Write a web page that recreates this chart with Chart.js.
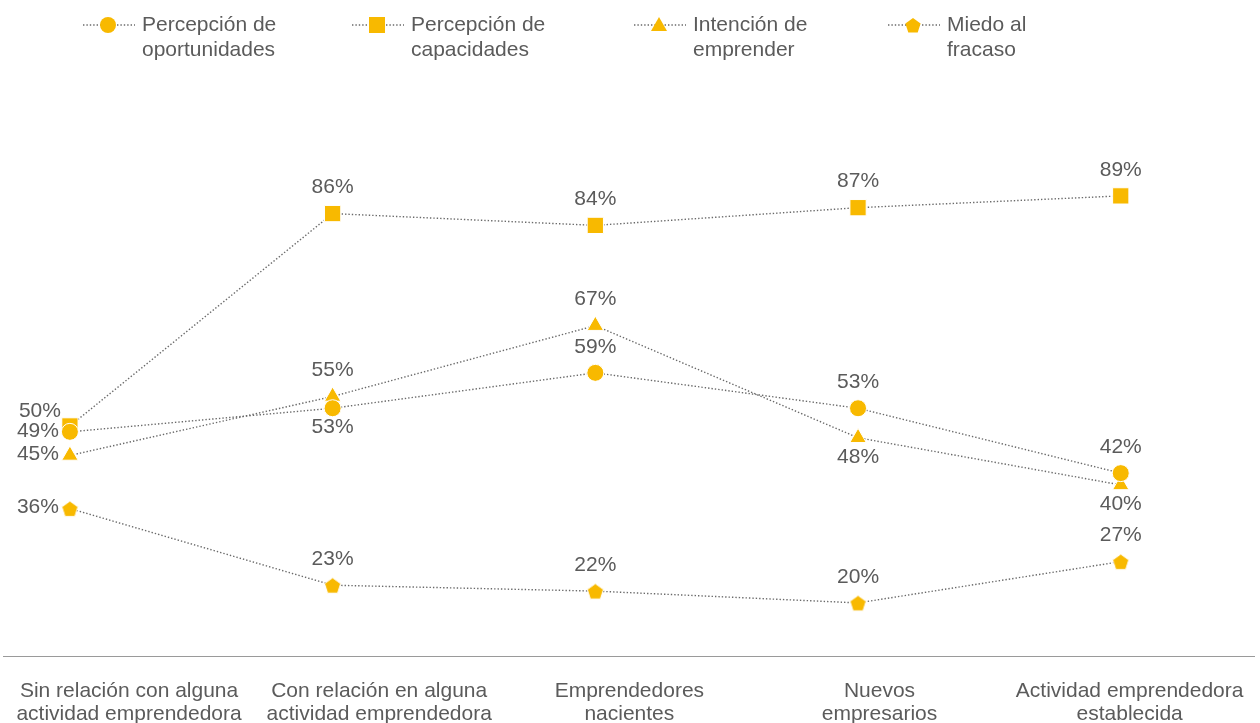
<!DOCTYPE html>
<html>
<head>
<meta charset="utf-8">
<script src="https://cdn.jsdelivr.net/npm/chart.js@4/dist/chart.umd.min.js"></script>
<style>
  html, body { margin: 0; padding: 0; background: #fff; }
  #wrap { width: 1260px; height: 723px; }
</style>
</head>
<body>
<div id="wrap"><canvas id="chart" width="1260" height="723"></canvas></div>
<script>
const categories = [
    ['Sin relación con alguna', 'actividad emprendedora'],
    ['Con relación en alguna', 'actividad emprendedora'],
    ['Emprendedores', 'nacientes'],
    ['Nuevos', 'empresarios'],
    ['Actividad emprendedora', 'establecida']
];
const seriesNames = [
    ['Percepción de', 'oportunidades'],
    ['Percepción de', 'capacidades'],
    ['Intención de', 'emprender'],
    ['Miedo al', 'fracaso']
];
const oportunidades = [49, 53, 59, 53, 42];
const capacidades = [50, 86, 84, 87, 89];
const intencion = [45, 55, 67, 48, 40];
const miedo = [36, 23, 22, 20, 27];

// where each value label sits relative to its marker
const placeOportunidades = ['left', 'below', 'above', 'above', 'above'];
const placeCapacidades = ['leftUp', 'above', 'above', 'above', 'above'];
const placeIntencion = ['left', 'above', 'above', 'below', 'below'];
const placeMiedo = ['left', 'above', 'above', 'above', 'above'];

const yellow = '#F8B900';
const textGray = '#5b5b5b';
const fontFamily = '"Liberation Sans", Arial, Helvetica, sans-serif';

function makePentagon(r) {
    const c = document.createElement('canvas');
    const s = Math.ceil(r * 2 + 4);
    c.width = s; c.height = s;
    const ctx = c.getContext('2d');
    pentagonPath(ctx, s / 2, s / 2 + 1, r);
    ctx.fillStyle = yellow;
    ctx.fill();
    ctx.strokeStyle = '#fff';
    ctx.lineWidth = 1;
    ctx.stroke();
    return c;
}
function pentagonPath(ctx, x, y, r) {
    ctx.beginPath();
    for (let i = 0; i < 5; i++) {
        const a = -Math.PI / 2 + i * 2 * Math.PI / 5;
        const px = x + r * Math.cos(a), py = y + r * Math.sin(a);
        if (i === 0) ctx.moveTo(px, py); else ctx.lineTo(px, py);
    }
    ctx.closePath();
}
const pentagon = makePentagon(8.5);

function toPoints(values) {
    return values.map((v, i) => ({ x: i, y: v }));
}

const styles = [
    { pointStyle: 'circle', pointRadius: 8.5 },
    { pointStyle: 'rect', pointRadius: 11.5 },
    { pointStyle: 'triangle', pointRadius: 9.5 },
    { pointStyle: pentagon, pointRadius: 9 }
];
const allValues = [oportunidades, capacidades, intencion, miedo];
const allPlaces = [placeOportunidades, placeCapacidades, placeIntencion, placeMiedo];

const datasets = allValues.map((vals, k) => ({
    label: seriesNames[k].join(' '),
    data: toPoints(vals),
    xAxisID: 'x',
    borderColor: '#6a6a6a',
    borderWidth: 1.4,
    borderDash: [1.4, 2],
    backgroundColor: yellow,
    pointBackgroundColor: yellow,
    pointBorderColor: '#fff',
    pointBorderWidth: 1,
    pointStyle: styles[k].pointStyle,
    pointRadius: styles[k].pointRadius,
    pointHoverRadius: styles[k].pointRadius,
    tension: 0,
    clip: false
}));

const valueLabels = {
    id: 'valueLabels',
    afterDatasetsDraw(chart) {
        const ctx = chart.ctx;
        ctx.save();
        ctx.font = '21px ' + fontFamily;
        ctx.fillStyle = textGray;
        chart.data.datasets.forEach((ds, k) => {
            const meta = chart.getDatasetMeta(k);
            meta.data.forEach((pt, i) => {
                const txt = allValues[k][i] + '%';
                const place = allPlaces[k][i];
                let x = pt.x, y = pt.y;
                ctx.textBaseline = 'middle';
                if (place === 'above') {
                    ctx.textAlign = 'center'; y -= 26;
                } else if (place === 'below') {
                    ctx.textAlign = 'center'; y += 19;
                } else if (place === 'left') {
                    ctx.textAlign = 'right'; x -= 11; y -= 1;
                } else if (place === 'leftUp') {
                    ctx.textAlign = 'right'; x -= 9; y -= 15;
                }
                ctx.fillText(txt, x, y);
            });
        });
        ctx.restore();
    }
};

const legendX = [83, 352, 634, 888];
const topLegend = {
    id: 'topLegend',
    afterDraw(chart) {
        const ctx = chart.ctx;
        ctx.save();
        seriesNames.forEach((name, k) => {
            const x0 = legendX[k], y = 25;
            ctx.strokeStyle = '#6a6a6a';
            ctx.lineWidth = 1.4;
            ctx.setLineDash([1.4, 2]);
            ctx.beginPath();
            ctx.moveTo(x0, y); ctx.lineTo(x0 + 52, y);
            ctx.stroke();
            ctx.setLineDash([]);
            const cx = x0 + 25;
            ctx.fillStyle = yellow;
            ctx.beginPath();
            if (k === 0) {
                ctx.arc(cx, y, 8, 0, Math.PI * 2);
            } else if (k === 1) {
                ctx.rect(cx - 8, y - 8, 16, 16);
            } else if (k === 2) {
                ctx.moveTo(cx, y - 8);
                ctx.lineTo(cx + 8, y + 6);
                ctx.lineTo(cx - 8, y + 6);
                ctx.closePath();
            } else {
                pentagonPath(ctx, cx, y + 1, 8);
            }
            ctx.fill();
            ctx.font = '21px ' + fontFamily;
            ctx.fillStyle = textGray;
            ctx.textAlign = 'left';
            ctx.textBaseline = 'middle';
            ctx.fillText(name[0], x0 + 59, 25);
            ctx.fillText(name[1], x0 + 59, 50);
        });
        ctx.restore();
    }
};

function start() {
    const ctx = document.getElementById('chart').getContext('2d');
    new Chart(ctx, {
        type: 'line',
        data: { labels: categories, datasets: datasets },
        options: {
            responsive: false,
            animation: false,
            events: [],
            layout: { autoPadding: false, padding: { top: 131, left: -12, right: -15, bottom: -19 } },
            plugins: {
                legend: { display: false },
                tooltip: { enabled: false }
            },
            scales: {
                x: {
                    type: 'linear',
                    display: false,
                    min: -0.251,
                    max: 4.51
                },
                xc: {
                    type: 'category',
                    position: 'bottom',
                    labels: categories,
                    offset: true,
                    grid: { display: false },
                    border: { display: true, color: '#9a9a9a', width: 1, dash: [1, 1.5] },
                    ticks: {
                        color: textGray,
                        font: { family: fontFamily, size: 21, lineHeight: '23px' },
                        padding: 16,
                        maxRotation: 0,
                        autoSkip: false
                    }
                },
                y: {
                    display: false,
                    min: 11,
                    max: 100
                }
            }
        },
        plugins: [valueLabels, topLegend]
    });
}

window.addEventListener('load', start, false);
</script>
</body>
</html>
